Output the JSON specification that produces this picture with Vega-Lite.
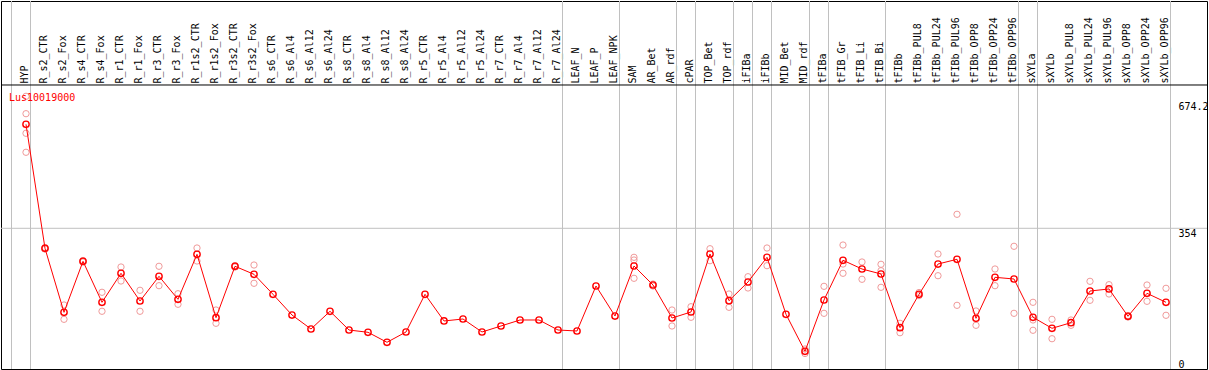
{
  "$schema": "https://vega.github.io/schema/vega-lite/v6.json",
  "width": 1206,
  "height": 368,
  "autosize": {"type": "none"},
  "padding": {"left": 1, "top": 1, "right": 2, "bottom": 1},
  "background": "white",
  "config": {
    "view": {"stroke": "black", "strokeWidth": 1},
    "font": "DejaVu Sans Mono",
    "axis": {"grid": false, "domain": false, "ticks": false, "labelFont": "DejaVu Sans Mono", "labelFontSize": 10, "labelColor": "black"}
  },
  "title": {"text": "Lus10019000", "anchor": "start", "frame": "group", "orient": "top", "offset": -107, "dx": 8, "baseline": "middle", "color": "red", "font": "DejaVu Sans Mono", "fontSize": 10, "fontWeight": "normal"},
  "datasets": {
    "means": [
      {"sample": "HYP", "value": 615.6},
      {"sample": "R_s2_CTR", "value": 303.6},
      {"sample": "R_s2_Fox", "value": 142.6},
      {"sample": "R_s4_CTR", "value": 270.9},
      {"sample": "R_s4_Fox", "value": 167.8},
      {"sample": "R_r1_CTR", "value": 240.8},
      {"sample": "R_r1_Fox", "value": 171.1},
      {"sample": "R_r3_CTR", "value": 233.2},
      {"sample": "R_r3_Fox", "value": 175.3},
      {"sample": "R_r1s2_CTR", "value": 288.5},
      {"sample": "R_r1s2_Fox", "value": 129.1},
      {"sample": "R_r3s2_CTR", "value": 258.4},
      {"sample": "R_r3s2_Fox", "value": 238.2},
      {"sample": "R_s6_CTR", "value": 187.9},
      {"sample": "R_s6_Al4", "value": 135.8},
      {"sample": "R_s6_Al12", "value": 100.6},
      {"sample": "R_s6_Al24", "value": 145.2},
      {"sample": "R_s8_CTR", "value": 98.1},
      {"sample": "R_s8_Al4", "value": 92.3},
      {"sample": "R_s8_Al12", "value": 67.2},
      {"sample": "R_s8_Al24", "value": 93.1},
      {"sample": "R_r5_CTR", "value": 187.9},
      {"sample": "R_r5_Al4", "value": 120.8},
      {"sample": "R_r5_Al12", "value": 125.8},
      {"sample": "R_r5_Al24", "value": 93.1},
      {"sample": "R_r7_CTR", "value": 108.2},
      {"sample": "R_r7_Al4", "value": 123.3},
      {"sample": "R_r7_Al12", "value": 123.3},
      {"sample": "R_r7_Al24", "value": 98.1},
      {"sample": "LEAF_N", "value": 95.6},
      {"sample": "LEAF_P", "value": 208.8},
      {"sample": "LEAF_NPK", "value": 133.3},
      {"sample": "SAM", "value": 259.1},
      {"sample": "AR_Bet", "value": 211.3},
      {"sample": "AR_rdf", "value": 128.3},
      {"sample": "cPAR", "value": 143.4},
      {"sample": "TOP_Bet", "value": 289.3},
      {"sample": "TOP_rdf", "value": 171.8},
      {"sample": "iFIBa", "value": 218.9},
      {"sample": "iFIBb", "value": 281.0},
      {"sample": "MID_Bet", "value": 137.6},
      {"sample": "MID_rdf", "value": 44.5},
      {"sample": "tFIBa", "value": 173.6},
      {"sample": "tFIB_Gr", "value": 273.5},
      {"sample": "tFIB_Li", "value": 251.6},
      {"sample": "tFIB_Bi", "value": 239.0},
      {"sample": "tFIBb", "value": 103.9},
      {"sample": "tFIBb_PUL8", "value": 187.9},
      {"sample": "tFIBb_PUL24", "value": 264.1},
      {"sample": "tFIBb_PUL96", "value": 276.0},
      {"sample": "tFIBb_OPP8", "value": 127.5},
      {"sample": "tFIBb_OPP24", "value": 230.7},
      {"sample": "tFIBb_OPP96", "value": 226.4},
      {"sample": "sXYLa", "value": 130.1},
      {"sample": "sXYLb", "value": 102.4},
      {"sample": "sXYLb_PUL8", "value": 116.5},
      {"sample": "sXYLb_PUL24", "value": 196.2},
      {"sample": "sXYLb_PUL96", "value": 201.3},
      {"sample": "sXYLb_OPP8", "value": 132.6},
      {"sample": "sXYLb_OPP24", "value": 190.4},
      {"sample": "sXYLb_OPP96", "value": 167.8}
    ],
    "reps": [
      {"sample": "HYP", "value": 686.0},
      {"sample": "HYP", "value": 642.3},
      {"sample": "HYP", "value": 593.0},
      {"sample": "HYP", "value": 545.2},
      {"sample": "R_s2_CTR", "value": 305.7},
      {"sample": "R_s2_CTR", "value": 301.9},
      {"sample": "R_s2_Fox", "value": 161.0},
      {"sample": "R_s2_Fox", "value": 125.0},
      {"sample": "R_s4_CTR", "value": 273.0},
      {"sample": "R_s4_CTR", "value": 269.2},
      {"sample": "R_s4_Fox", "value": 193.0},
      {"sample": "R_s4_Fox", "value": 145.2},
      {"sample": "R_r1_CTR", "value": 256.6},
      {"sample": "R_r1_CTR", "value": 221.4},
      {"sample": "R_r1_Fox", "value": 198.0},
      {"sample": "R_r1_Fox", "value": 145.2},
      {"sample": "R_r3_CTR", "value": 258.4},
      {"sample": "R_r3_CTR", "value": 209.6},
      {"sample": "R_r3_Fox", "value": 189.4},
      {"sample": "R_r3_Fox", "value": 162.8},
      {"sample": "R_r1s2_CTR", "value": 304.4},
      {"sample": "R_r1s2_CTR", "value": 271.7},
      {"sample": "R_r1s2_Fox", "value": 148.4},
      {"sample": "R_r1s2_Fox", "value": 115.0},
      {"sample": "R_r3s2_CTR", "value": 260.4},
      {"sample": "R_r3s2_CTR", "value": 256.6},
      {"sample": "R_r3s2_Fox", "value": 261.6},
      {"sample": "R_r3s2_Fox", "value": 215.6},
      {"sample": "SAM", "value": 281.0},
      {"sample": "SAM", "value": 274.2},
      {"sample": "SAM", "value": 228.2},
      {"sample": "AR_Bet", "value": 213.8},
      {"sample": "AR_Bet", "value": 208.8},
      {"sample": "AR_rdf", "value": 148.4},
      {"sample": "AR_rdf", "value": 108.2},
      {"sample": "cPAR", "value": 156.7},
      {"sample": "cPAR", "value": 130.1},
      {"sample": "TOP_Bet", "value": 302.6},
      {"sample": "TOP_Bet", "value": 272.5},
      {"sample": "TOP_rdf", "value": 188.7},
      {"sample": "TOP_rdf", "value": 155.2},
      {"sample": "iFIBa", "value": 232.2},
      {"sample": "iFIBa", "value": 203.8},
      {"sample": "iFIBb", "value": 304.4},
      {"sample": "iFIBb", "value": 259.9},
      {"sample": "MID_rdf", "value": 50.3},
      {"sample": "MID_rdf", "value": 39.0},
      {"sample": "tFIBa", "value": 208.0},
      {"sample": "tFIBa", "value": 140.1},
      {"sample": "tFIB_Gr", "value": 311.9},
      {"sample": "tFIB_Gr", "value": 264.1},
      {"sample": "tFIB_Gr", "value": 240.8},
      {"sample": "tFIB_Li", "value": 269.2},
      {"sample": "tFIB_Li", "value": 225.7},
      {"sample": "tFIB_Bi", "value": 263.4},
      {"sample": "tFIB_Bi", "value": 247.3},
      {"sample": "tFIB_Bi", "value": 205.5},
      {"sample": "tFIBb", "value": 115.0},
      {"sample": "tFIBb", "value": 91.3},
      {"sample": "tFIBb_PUL8", "value": 192.4},
      {"sample": "tFIBb_PUL8", "value": 184.6},
      {"sample": "tFIBb_PUL24", "value": 289.3},
      {"sample": "tFIBb_PUL24", "value": 234.7},
      {"sample": "tFIBb_PUL96", "value": 389.2},
      {"sample": "tFIBb_PUL96", "value": 160.2},
      {"sample": "tFIBb_OPP8", "value": 145.9},
      {"sample": "tFIBb_OPP8", "value": 109.9},
      {"sample": "tFIBb_OPP24", "value": 251.6},
      {"sample": "tFIBb_OPP24", "value": 209.6},
      {"sample": "tFIBb_OPP96", "value": 308.7},
      {"sample": "tFIBb_OPP96", "value": 140.1},
      {"sample": "sXYLa", "value": 167.8},
      {"sample": "sXYLa", "value": 123.3},
      {"sample": "sXYLa", "value": 97.4},
      {"sample": "sXYLb", "value": 125.0},
      {"sample": "sXYLb", "value": 76.2},
      {"sample": "sXYLb_PUL8", "value": 123.3},
      {"sample": "sXYLb_PUL8", "value": 109.9},
      {"sample": "sXYLb_PUL24", "value": 220.6},
      {"sample": "sXYLb_PUL24", "value": 172.8},
      {"sample": "sXYLb_PUL96", "value": 212.1},
      {"sample": "sXYLb_PUL96", "value": 188.7},
      {"sample": "sXYLb_OPP8", "value": 134.6},
      {"sample": "sXYLb_OPP8", "value": 130.8},
      {"sample": "sXYLb_OPP24", "value": 211.3},
      {"sample": "sXYLb_OPP24", "value": 170.3},
      {"sample": "sXYLb_OPP96", "value": 203.0},
      {"sample": "sXYLb_OPP96", "value": 135.1}
    ],
    "groups": [
      {"sample": "HYP"}, {"sample": "R_s2_CTR"}, {"sample": "LEAF_N"}, {"sample": "SAM"},
      {"sample": "cPAR"}, {"sample": "TOP_Bet"}, {"sample": "iFIBa"}, {"sample": "iFIBb"},
      {"sample": "MID_Bet"}, {"sample": "tFIBa"}, {"sample": "tFIB_Gr"}, {"sample": "tFIBb"},
      {"sample": "sXYLa"}, {"sample": "sXYLb"}
    ],
    "groupEnd": [{"sample": "sXYLb_OPP96"}],
    "one": [{}]
  },
  "layer": [
    {
      "data": {"name": "groups"},
      "mark": {"type": "rule", "color": "#c0c0c0", "strokeWidth": 1, "xOffset": -14.5},
      "encoding": {
        "x": {"field": "sample", "type": "nominal", "title": null,
          "scale": {"type": "point", "range": [25, 1165], "padding": 0, "domain": ["HYP","R_s2_CTR","R_s2_Fox","R_s4_CTR","R_s4_Fox","R_r1_CTR","R_r1_Fox","R_r3_CTR","R_r3_Fox","R_r1s2_CTR","R_r1s2_Fox","R_r3s2_CTR","R_r3s2_Fox","R_s6_CTR","R_s6_Al4","R_s6_Al12","R_s6_Al24","R_s8_CTR","R_s8_Al4","R_s8_Al12","R_s8_Al24","R_r5_CTR","R_r5_Al4","R_r5_Al12","R_r5_Al24","R_r7_CTR","R_r7_Al4","R_r7_Al12","R_r7_Al24","LEAF_N","LEAF_P","LEAF_NPK","SAM","AR_Bet","AR_rdf","cPAR","TOP_Bet","TOP_rdf","iFIBa","iFIBb","MID_Bet","MID_rdf","tFIBa","tFIB_Gr","tFIB_Li","tFIB_Bi","tFIBb","tFIBb_PUL8","tFIBb_PUL24","tFIBb_PUL96","tFIBb_OPP8","tFIBb_OPP24","tFIBb_OPP96","sXYLa","sXYLb","sXYLb_PUL8","sXYLb_PUL24","sXYLb_PUL96","sXYLb_OPP8","sXYLb_OPP24","sXYLb_OPP96"]},
          "axis": {"orient": "top", "offset": -84, "labelAngle": 270, "labelAlign": "left", "labelBaseline": "middle", "labelPadding": 2, "labelOverlap": false, "labelBound": false, "labelOffset": -2, "labelLimit": 300}
        }
      }
    },
    {
      "data": {"name": "groupEnd"},
      "mark": {"type": "rule", "color": "#c0c0c0", "strokeWidth": 1, "xOffset": 4.5},
      "encoding": {"x": {"field": "sample", "type": "nominal", "title": null}}
    },
    {
      "data": {"name": "one"},
      "mark": {"type": "rule", "color": "#c0c0c0", "strokeWidth": 1},
      "encoding": {"y": {"datum": 354, "type": "quantitative", "title": null}}
    },
    {
      "data": {"name": "one"},
      "mark": {"type": "rule", "color": "black", "strokeWidth": 1},
      "encoding": {"y": {"datum": 714.5, "type": "quantitative", "title": null}}
    },
    {
      "data": {"name": "reps"},
      "mark": {"type": "point", "shape": "circle", "filled": false, "color": "#f09a9a", "size": 40, "strokeWidth": 1, "opacity": 1},
      "encoding": {
        "x": {"field": "sample", "type": "nominal", "title": null},
        "y": {"field": "value", "type": "quantitative", "title": null,
          "scale": {"domain": [0, 925.8], "nice": false, "zero": true},
          "axis": {"orient": "right", "offset": -29, "values": [0, 354, 674.2], "format": ".1~f", "labelAlign": "left", "labelPadding": 0,
            "labelBaseline": {"condition": {"test": "datum.value == 0", "value": "bottom"}, "value": "top"}}
        }
      }
    },
    {
      "data": {"name": "means"},
      "mark": {"type": "line", "color": "red", "strokeWidth": 1},
      "encoding": {
        "x": {"field": "sample", "type": "nominal", "title": null},
        "y": {"field": "value", "type": "quantitative", "title": null}
      }
    },
    {
      "data": {"name": "means"},
      "mark": {"type": "point", "shape": "circle", "filled": false, "color": "red", "size": 40, "strokeWidth": 1.4, "opacity": 1},
      "encoding": {
        "x": {"field": "sample", "type": "nominal", "title": null},
        "y": {"field": "value", "type": "quantitative", "title": null}
      }
    }
  ]
}
